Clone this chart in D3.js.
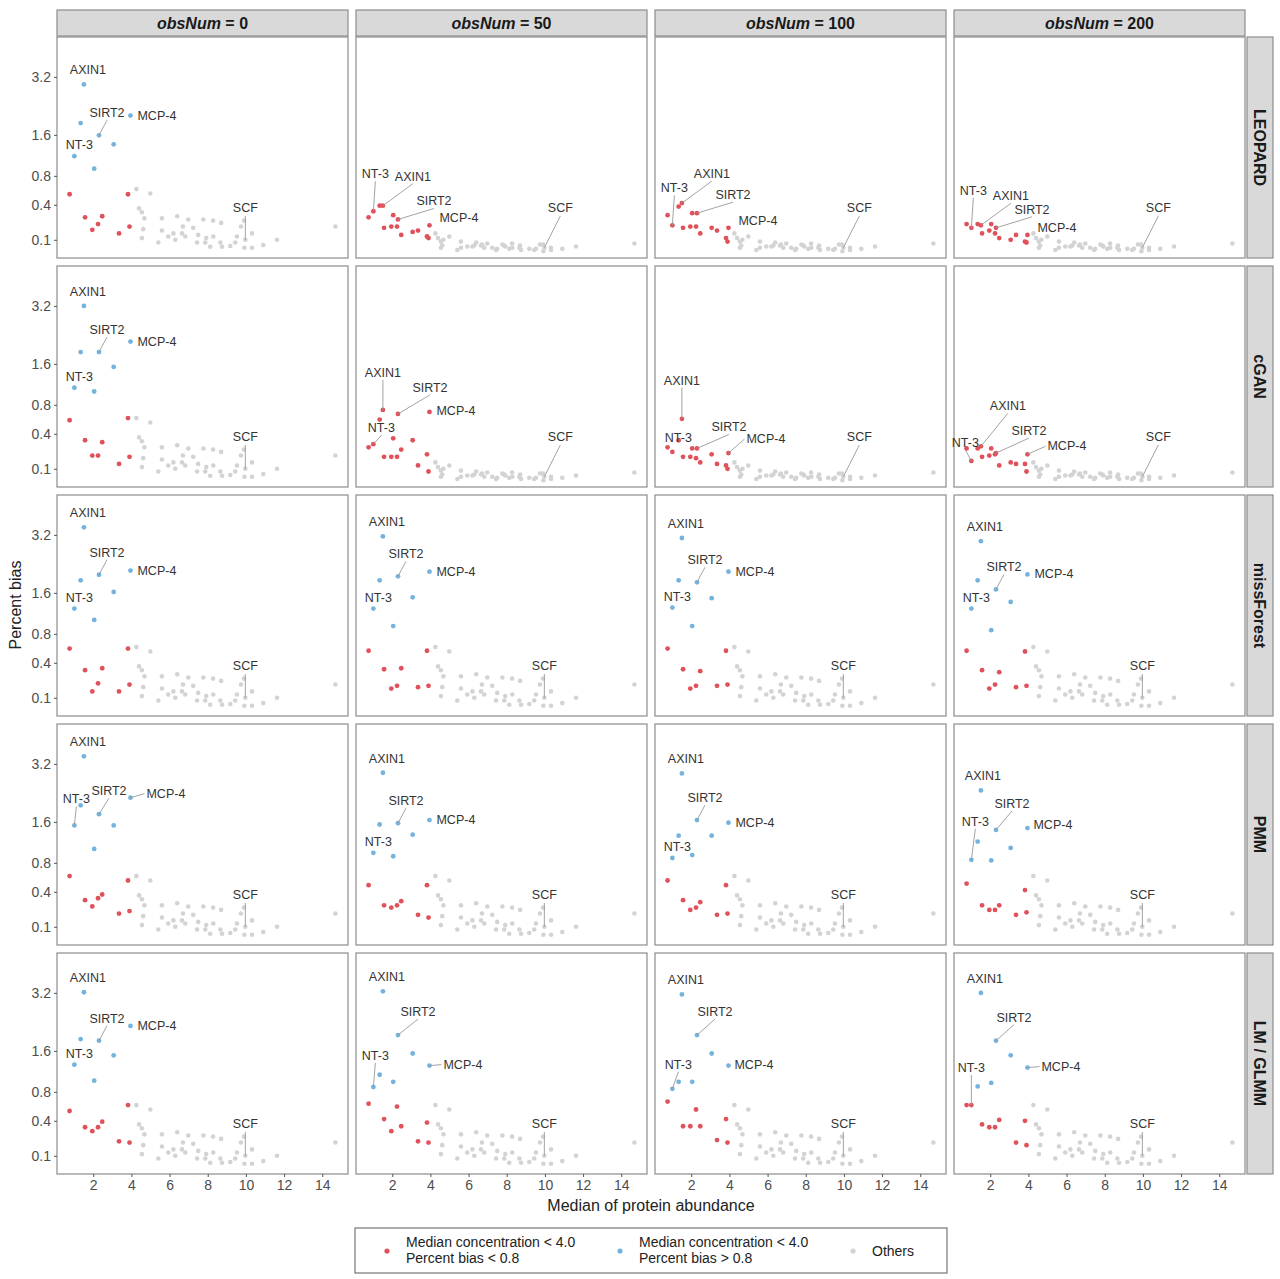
<!DOCTYPE html>
<html><head><meta charset="utf-8">
<script src="https://cdn.jsdelivr.net/npm/d3@7"></script>
<style>body{margin:0;background:#fff}text{font-family:"Liberation Sans",Arial,sans-serif}</style>
</head><body>
<svg id="chart" width="1280" height="1279"></svg>
<script>
// data
var methods=["LEOPARD","cGAN","missForest","PMM","LM / GLMM"];
var obsNums=[0,50,100,200];
var protNames=["AXIN1","","SIRT2","MCP-4","","NT-3","","","","","","","","",""];
var protX=[1.51,1.34,2.30,3.95,3.07,1.01,2.05,0.76,3.82,1.57,2.47,2.25,1.95,3.35,3.90];
var biasLEOPARD=[
 [2.96,1.88,1.59,2.07,1.39,1.15,0.92,0.53,0.53,0.27,0.28,0.21,0.165,0.14,0.19],
 [0.39,0.39,0.25,0.2,0.15,0.33,0.29,0.27,0.12,0.18,0.13,0.19,0.19,0.16,0.11],
 [0.42,0.38,0.31,0.18,0.18,0.2,0.31,0.29,0.11,0.18,0.14,0.19,0.19,0.16,0.09],
 [0.2,0.21,0.18,0.13,0.1,0.18,0.21,0.21,0.09,0.14,0.11,0.14,0.16,0.13,0.085]];
var biasCGAN=[
 [3.2,1.88,1.88,2.15,1.53,1.1,1.03,0.57,0.6,0.33,0.31,0.19,0.19,0.13,0.18],
 [0.72,0.58,0.66,0.69,0.33,0.29,0.35,0.26,0.2,0.18,0.24,0.18,0.18,0.12,0.085],
 [0.59,0.33,0.25,0.21,0.2,0.22,0.25,0.26,0.12,0.18,0.14,0.17,0.18,0.13,0.1],
 [0.27,0.25,0.21,0.2,0.14,0.15,0.25,0.25,0.13,0.18,0.12,0.2,0.19,0.13,0.085]];
var biasMissForest=[
 [3.45,1.9,2.04,2.15,1.62,1.26,1.04,0.58,0.58,0.32,0.34,0.2,0.14,0.14,0.19],
 [3.15,1.9,2.0,2.12,1.5,1.26,0.93,0.55,0.55,0.33,0.34,0.18,0.16,0.17,0.18],
 [3.1,1.9,1.85,2.12,1.48,1.28,0.93,0.58,0.55,0.33,0.31,0.18,0.16,0.18,0.19],
 [3.0,1.9,1.68,2.05,1.4,1.26,0.86,0.55,0.54,0.32,0.30,0.19,0.16,0.17,0.18]];
var biasPMM=[
 [3.45,2.0,1.78,2.2,1.52,1.52,1.04,0.6,0.54,0.31,0.37,0.33,0.25,0.19,0.21],
 [2.92,1.54,1.57,1.64,1.32,0.97,0.91,0.48,0.48,0.26,0.3,0.26,0.24,0.18,0.16],
 [2.9,1.3,1.64,1.58,1.3,0.88,0.93,0.54,0.48,0.31,0.29,0.24,0.22,0.18,0.19],
 [2.4,1.18,1.42,1.46,1.06,0.85,0.84,0.5,0.42,0.26,0.26,0.22,0.22,0.18,0.2]];
var biasLM=[
 [3.22,1.88,1.84,2.22,1.5,1.3,0.99,0.52,0.6,0.33,0.39,0.33,0.29,0.2,0.19],
 [3.25,1.1,1.98,1.28,1.54,0.88,0.97,0.62,0.38,0.42,0.34,0.58,0.29,0.2,0.19],
 [3.15,0.97,1.98,1.28,1.54,0.85,0.97,0.65,0.42,0.34,0.34,0.54,0.34,0.21,0.19],
 [3.2,0.89,1.84,1.24,1.5,0.6,0.95,0.6,0.4,0.36,0.41,0.33,0.33,0.19,0.17]];
var otherX=[4.26,4.99,4.55,4.68,4.62,4.55,5.6,6.4,6.98,7.77,8.28,8.7,9.74,10.32,14.69,5.6,5.93,5.41,6.3,6.7,7.24,6.65,7.5,7.92,7.44,8.13,8.66,8.75,9.18,9.44,9.97,9.92,10.32,10.91,11.63,8.29,9.53,7.87,6.82,6.2,9.9,4.4];
var otherBias=[0.6,0.54,0.32,0.26,0.17,0.11,0.26,0.28,0.25,0.25,0.24,0.22,0.19,0.14,0.19,0.16,0.12,0.085,0.1,0.19,0.18,0.14,0.13,0.11,0.085,0.064,0.085,0.064,0.068,0.085,0.1,0.06,0.06,0.072,0.1,0.12,0.12,0.085,0.12,0.14,0.24,0.36];
var otherBiasLow=[0.14,0.12,0.09,0.1,0.07,0.06,0.09,0.085,0.08,0.075,0.08,0.07,0.075,0.06,0.08,0.06,0.065,0.05,0.07,0.075,0.06,0.07,0.055,0.065,0.05,0.055,0.06,0.05,0.055,0.05,0.06,0.045,0.05,0.055,0.065,0.06,0.055,0.07,0.06,0.065,0.075,0.11];
var scfIndex=30;
var xTicks=[2,4,6,8,10,12,14];
var yTicks=[0.1,0.4,0.8,1.6,3.2];
var biasByMethod=[biasLEOPARD,biasCGAN,biasMissForest,biasPMM,biasLM];
// panels where imputation pulled every bias down
var lowPanels={"0-1":1,"0-2":1,"0-3":1,"1-1":1,"1-2":1,"1-3":1};

var RED="#E0525B",BLUE="#74B3DE",GREY="#D3D3D3";
var svg=d3.select("#chart");
var pw=291,ph=221,left0=57,top0=37,stepX=299,stepY=229;
var x=d3.scaleLinear().domain([0.1,15.35]).range([0,pw]);
var y=d3.scaleSqrt().domain([0.023,4.62]).range([ph,0]);

function colour(px,pb){ if(px<4&&pb<0.8)return RED; if(px<4&&pb>0.8)return BLUE; return GREY; }

var labHigh={"AXIN1":[4,-10,"middle"],"SIRT2":[8,-18,"middle"],"MCP-4":[7,4,"start"],"NT-3":[5,-7,"middle"]};
var labLow={"AXIN1":[30,-25,"middle"],"SIRT2":[36,-14,"middle"],"MCP-4":[10,-3,"start"],"NT-3":[2,-33,"middle"]};
var labOverride={
 "1-1":{"AXIN1":[0,-33,"middle"],"NT-3":[8,-12,"middle"],"SIRT2":[32,-22,"middle"],"MCP-4":[7,3,"start"]},
 "1-2":{"AXIN1":[0,-34,"middle"],"NT-3":[6,-10,"middle"],"SIRT2":[32,-17,"middle"],"MCP-4":[18,-10,"start"]},
 "1-3":{"AXIN1":[27,-36,"middle"],"NT-3":[-6,-14,"middle"],"SIRT2":[33,-18,"middle"],"MCP-4":[20,-4,"start"]},
 "3-0":{"AXIN1":[4,-10,"middle"],"NT-3":[2,-22,"middle"],"SIRT2":[10,-19,"middle"],"MCP-4":[16,0,"start"]},
 "3-3":{"AXIN1":[2,-10,"middle"],"NT-3":[4,-34,"middle"],"SIRT2":[16,-22,"middle"],"MCP-4":[6,1,"start"]},
 "4-1":{"AXIN1":[4,-10,"middle"],"NT-3":[2,-27,"middle"],"SIRT2":[20,-19,"middle"],"MCP-4":[14,3,"start"]},
 "4-2":{"AXIN1":[4,-10,"middle"],"NT-3":[6,-20,"middle"],"SIRT2":[18,-19,"middle"],"MCP-4":[6,3,"start"]},
 "4-3":{"AXIN1":[4,-10,"middle"],"NT-3":[0,-33,"middle"],"SIRT2":[18,-19,"middle"],"MCP-4":[14,3,"start"]}
};

methods.forEach(function(m,r){
  obsNums.forEach(function(o,c){
    var key=r+"-"+c, low=!!lowPanels[key];
    var g=svg.append("g").attr("transform","translate("+(left0+c*stepX)+","+(top0+r*stepY)+")");
    g.append("rect").attr("width",pw).attr("height",ph).attr("fill","#fff").attr("stroke","#8c8c8c").attr("stroke-width",1.2);
    var ob=low?otherBiasLow:otherBias;
    g.selectAll("circle.o").data(otherX).enter().append("circle").attr("class","o")
      .attr("cx",function(d){return x(d);}).attr("cy",function(d,i){return y(ob[i]);}).attr("r",2.3).attr("fill",GREY);
    var bias=biasByMethod[r][c];
    var pts=protX.map(function(px,i){return {x:px,b:bias[i],name:protNames[i]};});
    g.selectAll("circle.p").data(pts).enter().append("circle").attr("class","p")
      .attr("cx",function(d){return x(d.x);}).attr("cy",function(d){return y(d.b);}).attr("r",2.4)
      .attr("fill",function(d){return colour(d.x,d.b);});
    // labels
    var offs=labOverride[key]||(low?labLow:labHigh);
    pts.filter(function(d){return d.name;}).forEach(function(d){
      var of=offs[d.name],px=x(d.x),py=y(d.b),tx=px+of[0],ty=py+of[1];
      var dist=Math.sqrt(of[0]*of[0]+of[1]*of[1]);
      if(dist>14){
        var ex=of[2]=="start"?tx-2:tx, ey=of[2]=="start"?ty-4:ty+3;
        g.append("line").attr("x1",px).attr("y1",py).attr("x2",ex).attr("y2",ey).attr("stroke","#999").attr("stroke-width",0.9);
      }
      g.append("text").attr("x",tx).attr("y",ty).attr("text-anchor",of[2]).attr("font-size",12.5).attr("fill","#333").text(d.name);
    });
    // SCF
    var sx=x(otherX[scfIndex]),sy=y(ob[scfIndex]),ltx=sx+(low?16:0),lty=175;
    g.append("line").attr("x1",sx).attr("y1",sy).attr("x2",ltx).attr("y2",lty+4).attr("stroke","#999").attr("stroke-width",0.9);
    g.append("text").attr("x",ltx).attr("y",lty).attr("text-anchor","middle").attr("font-size",12.5).attr("fill","#333").text("SCF");
    // axes
    if(c==0){
      var ya=g.append("g").call(d3.axisLeft(y).tickValues(yTicks).tickSize(3).tickFormat(d3.format(".1f")));
      ya.select(".domain").remove();
      ya.selectAll("line").attr("stroke","#555");
      ya.selectAll("text").attr("font-size",14).attr("fill","#4d4d4d").attr("font-family","Liberation Sans, Arial");
    }
    if(r==methods.length-1){
      var xa=g.append("g").attr("transform","translate(0,"+ph+")").call(d3.axisBottom(x).tickValues(xTicks).tickSize(3));
      xa.select(".domain").remove();
      xa.selectAll("line").attr("stroke","#555");
      xa.selectAll("text").attr("font-size",14).attr("fill","#4d4d4d").attr("font-family","Liberation Sans, Arial");
    }
    // column strips
    if(r==0){
      var s=svg.append("g").attr("transform","translate("+(left0+c*stepX)+",10)");
      s.append("rect").attr("width",pw).attr("height",26).attr("fill","#d9d9d9").attr("stroke","#8c8c8c").attr("stroke-width",1.2);
      var t=s.append("text").attr("x",pw/2).attr("y",19).attr("text-anchor","middle").attr("font-size",16).attr("font-weight","bold").attr("fill","#1a1a1a");
      t.append("tspan").attr("font-style","italic").text("obsNum");
      t.append("tspan").text(" = "+o);
    }
  });
  var rs=svg.append("g").attr("transform","translate(1247,"+(top0+r*stepY)+")");
  rs.append("rect").attr("width",26).attr("height",ph).attr("fill","#d9d9d9").attr("stroke","#8c8c8c").attr("stroke-width",1.2);
  rs.append("text").attr("transform","translate(7,"+(ph/2)+") rotate(90)").attr("text-anchor","middle")
    .attr("font-size",16).attr("font-weight","bold").attr("fill","#1a1a1a").text(m);
});

svg.append("text").attr("x",651).attr("y",1211).attr("text-anchor","middle").attr("font-size",16).attr("fill","#222").text("Median of protein abundance");
svg.append("text").attr("transform","translate(21,605) rotate(-90)").attr("text-anchor","middle").attr("font-size",16).attr("fill","#222").text("Percent bias");

// legend
var leg=svg.append("g").attr("transform","translate(355,1228)");
leg.append("rect").attr("width",592).attr("height",45).attr("fill","#fff").attr("stroke","#777").attr("stroke-width",1.2);
var legItems=[{c:RED,l:["Median concentration < 4.0","Percent bias < 0.8"],x:32},
  {c:BLUE,l:["Median concentration < 4.0","Percent bias > 0.8"],x:265},
  {c:GREY,l:["Others"],x:498}];
legItems.forEach(function(it){
  leg.append("circle").attr("cx",it.x).attr("cy",23).attr("r",2.6).attr("fill",it.c);
  it.l.forEach(function(s,i){
    leg.append("text").attr("x",it.x+19).attr("y",it.l.length==1?28:19+i*16).attr("font-size",14).attr("fill","#222").text(s);
  });
});
</script>
</body></html>
